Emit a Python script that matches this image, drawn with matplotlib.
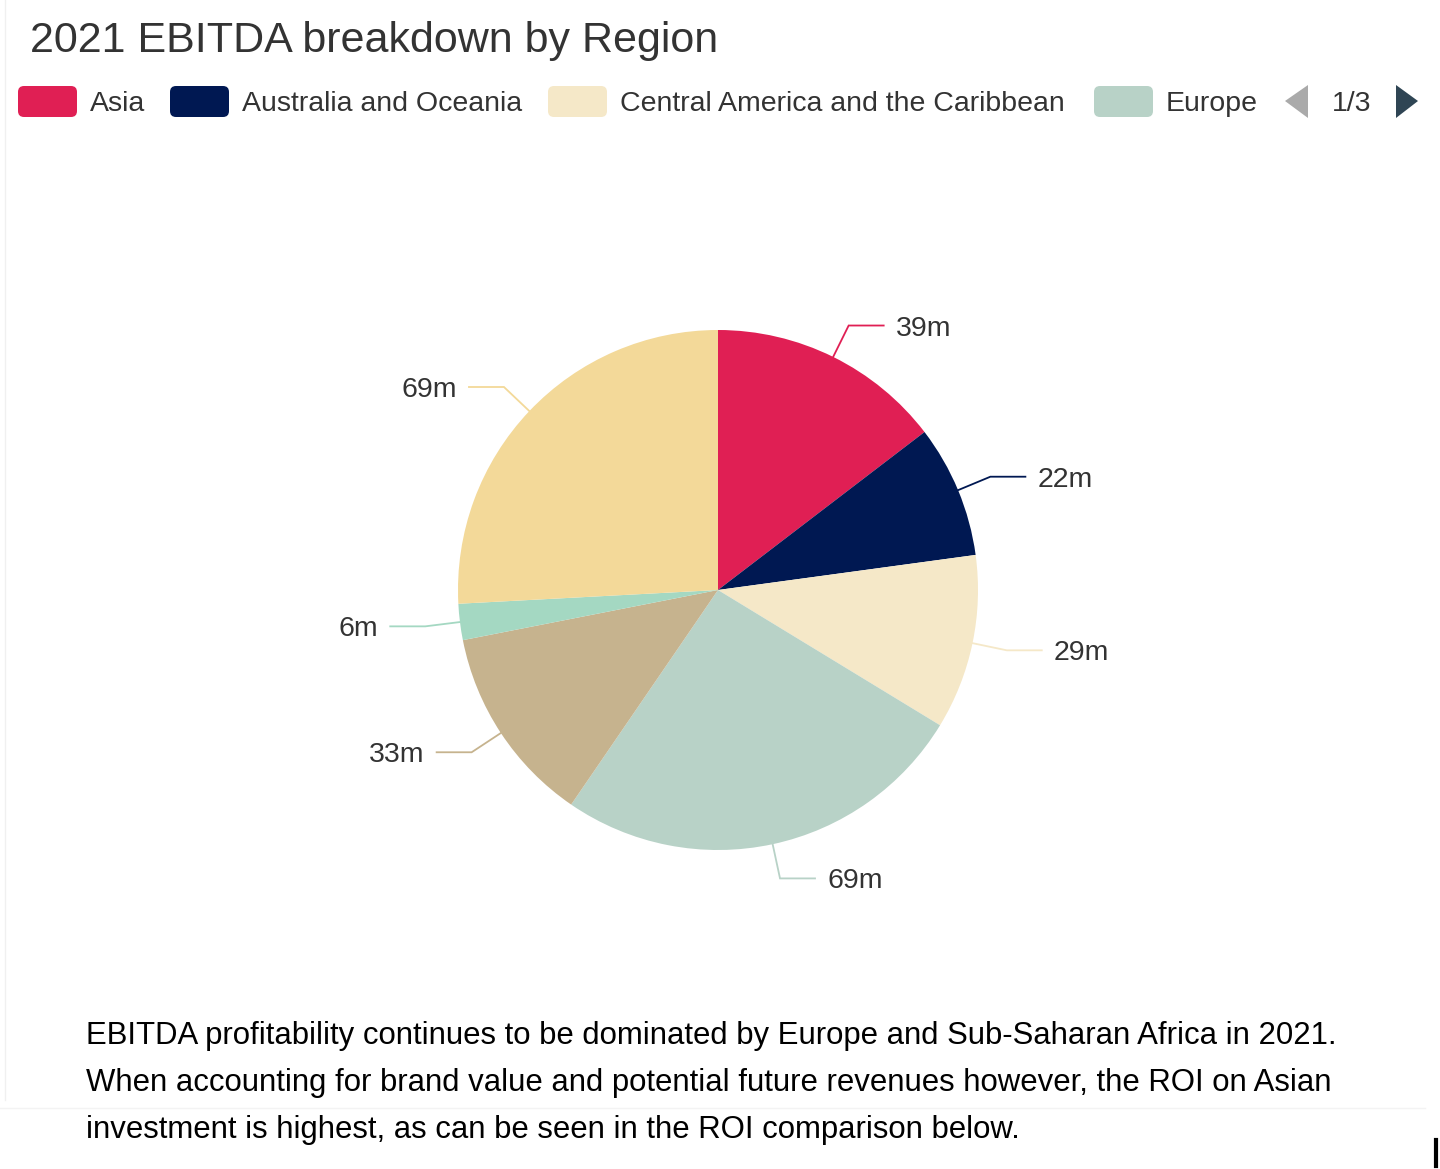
import numpy as np
import matplotlib.pyplot as plt
from matplotlib.patches import FancyBboxPatch, Polygon

plt.rcParams['font.family'] = ['Liberation Sans', 'DejaVu Sans']

# ---------- Data ----------
regions = ["Asia", "Australia and Oceania", "Central America and the Caribbean",
           "Europe", "Middle East and North Africa", "North America",
           "Sub-Saharan Africa"]
ebitda = [39, 22, 29, 69, 33, 6, 69]
labels = ["39m", "22m", "29m", "69m", "33m", "6m", "69m"]
colors = ["#e01f54", "#001852", "#f5e8c8", "#b8d2c7", "#c6b38e", "#a4d8c2", "#f3d999"]
legend_page = regions[:4]
page_text = "1/3"
title = "2021 EBITDA breakdown by Region"
note = ["EBITDA profitability continues to be dominated by Europe and Sub-Saharan Africa in 2021.",
        "When accounting for brand value and potential future revenues however, the ROI on Asian",
        "investment is highest, as can be seen in the ROI comparison below."]

W, H = 1440, 1169
def Y(y):
    return H - y

fig = plt.figure(figsize=(W / 100, H / 100), dpi=100)
ax = fig.add_axes([0, 0, 1, 1])

# ---------- Pie ----------
cx, cy, R = 718, Y(590), 260
wedges, _ = ax.pie(ebitda, colors=colors, startangle=90, counterclock=False,
                   center=(cx, cy), radius=R, wedgeprops=dict(linewidth=0))

for w, lab, col in zip(wedges, labels, colors):
    mid = np.radians((w.theta1 + w.theta2) / 2)
    x0, y0 = cx + R * np.cos(mid), cy + R * np.sin(mid)
    x1, y1 = cx + (R + 35) * np.cos(mid), cy + (R + 35) * np.sin(mid)
    side = 1 if np.cos(mid) >= 0 else -1
    x2 = x1 + side * 35
    ax.plot([x0, x1, x2], [y0, y1, y1], color=col, lw=1.3, solid_joinstyle='miter')
    ax.text(x2 + side * 12, y1 - 3, lab, ha='left' if side > 0 else 'right', va='center',
            fontsize=20.5, color='#333333')

ax.set_xlim(0, W)
ax.set_ylim(0, H)
ax.axis('off')

# ---------- Title ----------
ax.text(30, Y(41), title, fontsize=31, color='#333333', ha='left', va='center')

# ---------- Legend (page 1 of 3) ----------
box_x = [18, 170, 548, 1094]
for bx, name, col in zip(box_x, legend_page, colors):
    ax.add_patch(FancyBboxPatch((bx + 6, Y(117) + 6), 47, 19,
                                boxstyle="round,pad=6", fc=col, ec='none'))
    ax.text(bx + 72, Y(104), name, fontsize=20.5, color='#333333', ha='left', va='center')

ax.add_patch(Polygon([[1285, Y(101)], [1308, Y(85)], [1308, Y(118)]],
                     closed=True, fc='#aaaaaa', ec='none'))
ax.add_patch(Polygon([[1418, Y(101)], [1396, Y(85)], [1396, Y(118)]],
                     closed=True, fc='#2f4554', ec='none'))
ax.text(1352, Y(104), page_text, fontsize=20.5, color='#333333', ha='center', va='center')

# ---------- Note ----------
for i, line in enumerate(note):
    ax.text(86, Y(1036 + 47 * i), line, fontsize=22.45, color='#000000',
            ha='left', va='center')

# faint page borders and cursor
ax.plot([5, 5], [Y(0), Y(1100)], color='#f0f0f0', lw=1)
ax.plot([0, 1425], [Y(1108), Y(1108)], color='#f3f3f3', lw=1)
ax.plot([1436, 1436], [Y(1140), Y(1166)], color='#000000', lw=3)

fig.savefig("out.png", dpi=100)
